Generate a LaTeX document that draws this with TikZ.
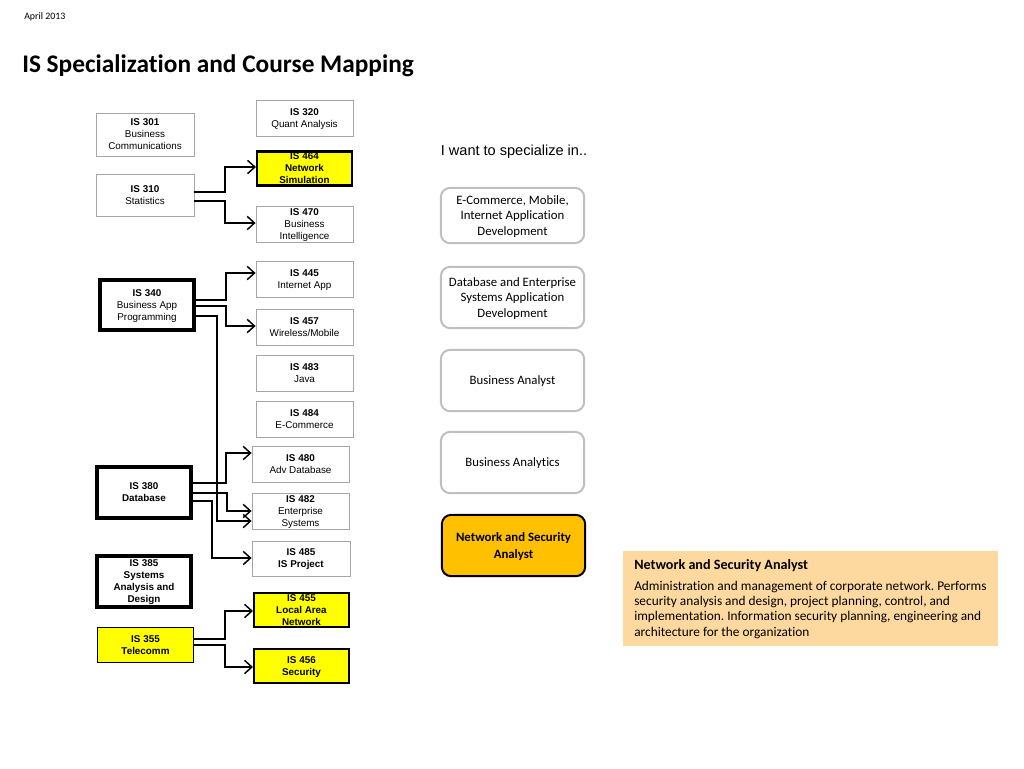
\documentclass[tikz,border=0pt]{standalone}
\usepackage{fontspec}
\setmainfont{Carlito}[Ligatures=NoCommon]
\newfontfamily\arial{Liberation Sans}
\usetikzlibrary{arrows.meta}
\frenchspacing
\definecolor{boxgray}{RGB}{166,166,166}
\definecolor{roundgray}{RGB}{191,191,191}
\definecolor{hiyellow}{RGB}{255,255,0}
\definecolor{specorange}{RGB}{255,192,0}
\definecolor{infopeach}{RGB}{253,217,160}
\tikzset{
  cbox/.style={draw=boxgray, line width=0.6pt, minimum width=72.75pt, minimum height=27pt,
    inner sep=1pt, align=center, fill=white, text depth=0pt, font=\arial\fontsize{7.4}{9}\selectfont},
  hbox/.style={cbox, draw=black, line width=1.8pt, fill=hiyellow, minimum width=71pt, minimum height=25.5pt},
  kbox/.style={cbox, draw=black, line width=3pt, minimum width=70.5pt},
  sbox/.style={draw=roundgray, line width=1.5pt, rounded corners=7pt, minimum width=107.5pt,
    minimum height=46pt, align=center, fill=white, text depth=0pt, font=\fontsize{9.6}{11.6}\selectfont},
  conn/.style={draw=black, line width=1.1pt, -{Straight Barb[length=5.5pt,width=10pt,line width=1.1pt]}},
}
\begin{document}
\begin{tikzpicture}[x=0.75pt,y=-0.75pt]
\useasboundingbox (0,0) rectangle (1024,768);
% header
\node[anchor=base west, inner sep=0, font=\fontsize{7.4}{9}\selectfont] (date) at (24,19) {April 2013};
\node[anchor=base west, inner sep=0, font=\bfseries\fontsize{19}{22}\selectfont] (title) at (22,72) {IS Specialization and Course Mapping};
% course boxes
\node[cbox, minimum width=73.5pt, minimum height=32.25pt] (n301) at (145,134.5) {\textbf{IS 301}\\Business\\Communications};
\node[cbox] (n320) at (304.5,118) {\textbf{IS 320}\\Quant Analysis};
\node[hbox] (n464) at (304.5,168.5) {\textbf{IS 464}\\\textbf{Network}\\\textbf{Simulation}};
\node[cbox, minimum width=73.5pt, minimum height=31.5pt] (n310) at (145,195) {\textbf{IS 310}\\Statistics};
\node[cbox] (n470) at (304.5,224) {\textbf{IS 470}\\Business\\Intelligence};
\node[cbox] (n445) at (304.5,279) {\textbf{IS 445}\\Internet App};
\node[kbox, minimum height=37.5pt] (n340) at (147,305) {\textbf{IS 340}\\Business App\\Programming};
\node[cbox] (n457) at (304.5,327) {\textbf{IS 457}\\Wireless/Mobile};
\node[cbox] (n483) at (304.5,373) {\textbf{IS 483}\\Java};
\node[cbox] (n484) at (304.5,419) {\textbf{IS 484}\\E-Commerce};
\node[cbox] (n480) at (300.5,464) {\textbf{IS 480}\\Adv Database};
\node[kbox, minimum height=38.25pt] (n380) at (144,492.5) {\textbf{IS 380}\\\textbf{Database}};
\node[cbox] (n482) at (300.5,511) {\textbf{IS 482}\\Enterprise\\Systems};
\node[cbox, minimum width=73.5pt, minimum height=26.25pt] (n485) at (301,558.5) {\textbf{IS 485}\\\textbf{IS Project}};
\node[kbox, minimum height=38.25pt] (n385) at (144,581.5) {\textbf{IS 385}\\\textbf{Systems}\\\textbf{Analysis and}\\\textbf{Design}};
\node[hbox] (n455) at (301.5,610) {\textbf{IS 455}\\\textbf{Local Area}\\\textbf{Network}};
\node[hbox, line width=1.1pt, minimum width=72pt, minimum height=26pt] (n355) at (145.5,645) {\textbf{IS 355}\\\textbf{Telecomm}};
\node[hbox] (n456) at (301.5,666) {\textbf{IS 456}\\\textbf{Security}};
% connectors
\draw[conn] (n310.east |- 0,192) -- (225,192) |- (n464.west |- 0,167);
\draw[conn] (n310.east |- 0,201) -- (225,201) |- (n470.west |- 0,223);
\draw[conn] (n340.east |- 0,300) -- (226,300) |- (n445.west |- 0,273);
\draw[conn] (n340.east |- 0,306) -- (226,306) |- (n457.west |- 0,326);
\draw[conn] (n340.east |- 0,316) -- (217,316) |- (n482.west |- 0,521);
\draw[conn] (n380.east |- 0,483) -- (226,483) |- (n480.west |- 0,453);
\draw[conn] (n380.east |- 0,493) -- (227,493) |- (n482.west |- 0,511);
\draw[conn] (n380.east |- 0,501) -- (212,501) |- (n485.west |- 0,558);
\draw[conn] (n355.east |- 0,639) -- (225,639) |- (n455.west |- 0,611);
\draw[conn] (n355.east |- 0,645) -- (225,645) |- (n456.west |- 0,667);
% specializations
\node[font=\arial\fontsize{10.9}{13}\selectfont, inner sep=0] (want) at (514,152) {I want to specialize in..};
\node[sbox, minimum height=41.5pt] (s1) at (512.5,215.5) {E-Commerce, Mobile,\\Internet Application\\Development};
\node[sbox] (s2) at (512.5,297.5) {Database and Enterprise\\Systems Application\\Development};
\node[sbox] (s3) at (512.5,380.5) {Business Analyst};
\node[sbox] (s4) at (512.5,462.5) {Business Analytics};
\node[sbox, draw=black, fill=specorange, font=\bfseries\fontsize{9.6}{12.6}\selectfont] (s5) at (513.5,545.5) {Network and Security\\Analyst};
% info box
\fill[infopeach] (623,551) rectangle (998,646);
\node[anchor=west, inner sep=0, font=\bfseries\fontsize{10.6}{12}\selectfont] (infotitle) at (634,566) {Network and Security Analyst};
\node[anchor=north west, inner sep=0, align=left, font=\fontsize{10}{11.5}\selectfont] (infotext) at (634,580.5) {Administration and management of corporate network. Performs\\security analysis and design, project planning, control, and\\implementation. Information security planning, engineering and\\architecture for the organization};
\end{tikzpicture}
\end{document}
